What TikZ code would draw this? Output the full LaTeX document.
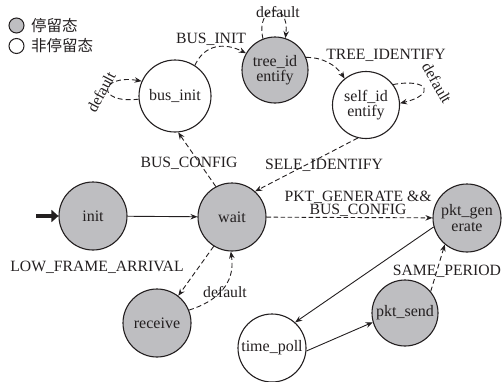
\documentclass[tikz,border=0pt]{standalone}
\usepackage{fontspec}
\setmainfont{Liberation Serif}
\newfontfamily\cjk{Noto Sans CJK SC}
\usetikzlibrary{arrows.meta}
\definecolor{stgray}{RGB}{190,190,193}
\definecolor{ink}{RGB}{35,31,32}
\tikzset{
  st/.style={circle, draw=ink, line width=1.1pt, minimum size=68pt, inner sep=0pt,
    align=center, font=\fontsize{16}{15.5}\selectfont, text=ink},
  stop/.style={st, fill=stgray},
  tr/.style={draw=ink, -{Stealth[length=7pt,width=5.5pt]}, line width=0.9pt},
  dtr/.style={tr, dash pattern=on 5pt off 3pt},
  lbl/.style={font=\fontsize{15.7}{13}\selectfont, text=ink, inner sep=0pt, align=center},
  leg/.style={circle, draw=ink, line width=1pt, minimum size=15pt, inner sep=0pt},
  legt/.style={anchor=west, inner sep=0pt, font=\cjk\fontsize{15.5}{15.5}\selectfont, text=ink}
}
\begin{document}
\begin{tikzpicture}[x=1pt,y=-1pt]
\useasboundingbox (0,0) rectangle (503,381);
% legend
\node[leg, fill=stgray] (l1) at (16.5,25.5) {};
\node[leg] (l2) at (16.5,46) {};
\node[legt] (l1t) at (31,25.5) {停留态};
\node[legt] (l2t) at (31,46) {非停留态};
% states
\node[st, minimum size=72pt] (bus) at (175,96) {bus\_init};
\node[stop, minimum size=66pt] (tree) at (275,70) {tree\_id\\entify};
\node[st, minimum size=67pt] (self) at (366,105) {self\_id\\entify};
\node[stop] (init) at (93,216) {init};
\node[stop] (wait) at (232,217) {wait};
\node[stop] (pkt) at (467,218) {pkt\_gen\\erate};
\node[stop] (recv) at (157,323) {receive};
\node[st] (tp) at (272,348) {time\_poll};
\node[stop, minimum size=66pt] (send) at (405,313) {pkt\_send};
% initial arrow
\coordinate (start) at (36,216);
\draw[draw=ink, line width=4.5pt, -{Triangle[length=7pt,width=12pt]}] (start) -- (init.west);
% transitions
\draw[tr] (init) -- (wait);
\draw[dtr] (wait.118) -- (bus.275);
\draw[dtr] (bus.185) .. controls (95,104) and (100,74) .. (bus.156);
\draw[dtr] (bus.57) .. controls (205,43) and (226,43) .. (tree.150);
\draw[dtr] (tree.111) .. controls (255,5) and (290,0) .. (tree.72);
\draw[dtr] (tree.22) .. controls (322,57) and (336,65) .. (self.129);
\draw[dtr] (self.37) .. controls (430,78) and (435,95) .. (self.3);
\draw[dtr] (self.256) -- (wait.48);
\draw[tr, dash pattern=on 4.5pt off 2.5pt] (wait) -- (pkt);
\draw[dtr] (wait.238) -- (recv.52);
\draw[dtr] (recv.22) .. controls (215,302) and (236,285) .. (wait.268);
\draw[tr] (pkt.195) -- (tp.48);
\draw[tr] (tp.-5) -- (send.196);
\draw[dtr] (send.40) -- (pkt.230);
% labels
\node[lbl] (lb1) at (211,39) {BUS\_INIT};
\node[lbl] (lb2) at (278,12) {default};
\node[lbl] (lb3) at (386,55) {TREE\_IDENTIFY};
\node[lbl, rotate=-60] (lb4) at (437,83) {default};
\node[lbl, rotate=62] (lb5) at (101,92) {default};
\node[lbl] (lb6) at (189,163) {BUS\_CONFIG};
\node[lbl] (lb7) at (324,165) {SELE\_IDENTIFY};
\node[lbl] (lb8) at (358,204) {PKT\_GENERATE \&\&\\BUS\_CONFIG};
\node[lbl] (lb9) at (97,267) {LOW\_FRAME\_ARRIVAL};
\node[lbl] (lb10) at (225,292) {default};
\node[lbl] (lb11) at (447,271) {SAME\_PERIOD};
\end{tikzpicture}
\end{document}
